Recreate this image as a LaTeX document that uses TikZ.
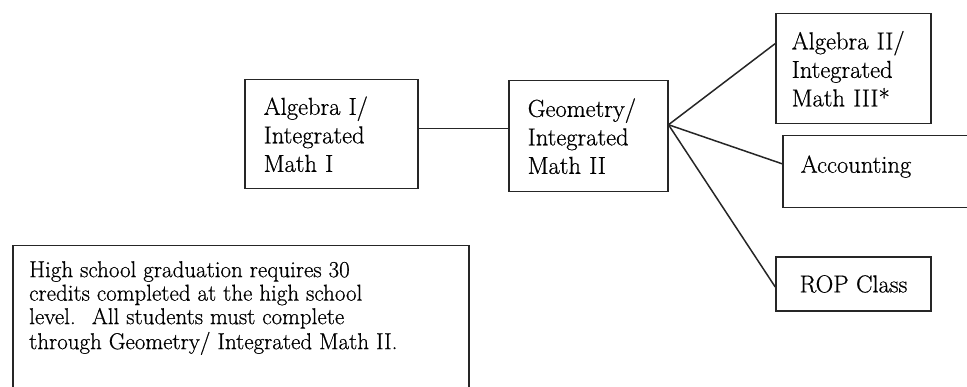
\documentclass[tikz,border=0pt]{standalone}
\usepackage{fontspec}
\setmainfont{Latin Modern Roman}[FakeBold=0.6]
\usepackage{tikz}
\usetikzlibrary{positioning}

\begin{document}
\begin{tikzpicture}[x=1pt,y=-1pt]
            \tikzset{course/.style = {draw=black!85, line width=1.5pt, align=left, font=\fontsize{24.5}{28.5}\selectfont}}
            \tikzset{notebox/.style = {draw=black!85, line width=1.5pt}}
            \tikzset{wire/.style = {draw=black!85, line width=1.5pt}}

            \useasboundingbox (0,0) rectangle (967,387);
            \clip (0,0) rectangle (967,387);

            % math sequence
            \node[course, anchor=north west, inner xsep=19pt, text width=135pt, minimum height=109pt] (alg1) at (244,79) {Algebra I/\\Integrated\\Math I};
            \node[course, anchor=north west, inner xsep=19pt, text width=121pt, minimum height=111pt] (geo) at (508,80) {Geometry/\\Integrated\\Math II};

            % options after geometry
            \node[course, anchor=north west, inner xsep=16pt, text width=123pt, minimum height=110pt] (alg2) at (775,13) {Algebra II/\\Integrated\\Math III*};
            \node[course, anchor=north west, inner xsep=18pt, text width=172pt, inner ysep=4pt, text height=33pt, text depth=31pt] (acct) at (782,135) {Accounting};
            \node[course, minimum width=155pt, minimum height=54pt] (rop) at (853.5,284) {ROP Class};

            % note
            \node[notebox, anchor=north west, minimum width=456pt, minimum height=155pt] (note) at (12,245) {};
            \node[anchor=north west, inner sep=0pt, align=left, font=\fontsize{23}{23.5}\selectfont] (notetxt) at (29,261)
                {High school graduation requires 30\\credits completed at the high school\\level.~ All students must complete\\[1.5pt]through Geometry/ Integrated Math II.};

            \coordinate (hub) at ([yshift=11.5pt]geo.east);

            \draw[wire] ([yshift=5.5pt]alg1.east) -- ([yshift=5.5pt]alg1.east -| geo.west);
            \draw[wire] (hub) -- ([yshift=25pt]alg2.west);
            \draw[wire] (hub) -- ([yshift=8pt]acct.west);
            \draw[wire] (hub) -- ([yshift=-3pt]rop.west);

\end{tikzpicture}
\end{document}
